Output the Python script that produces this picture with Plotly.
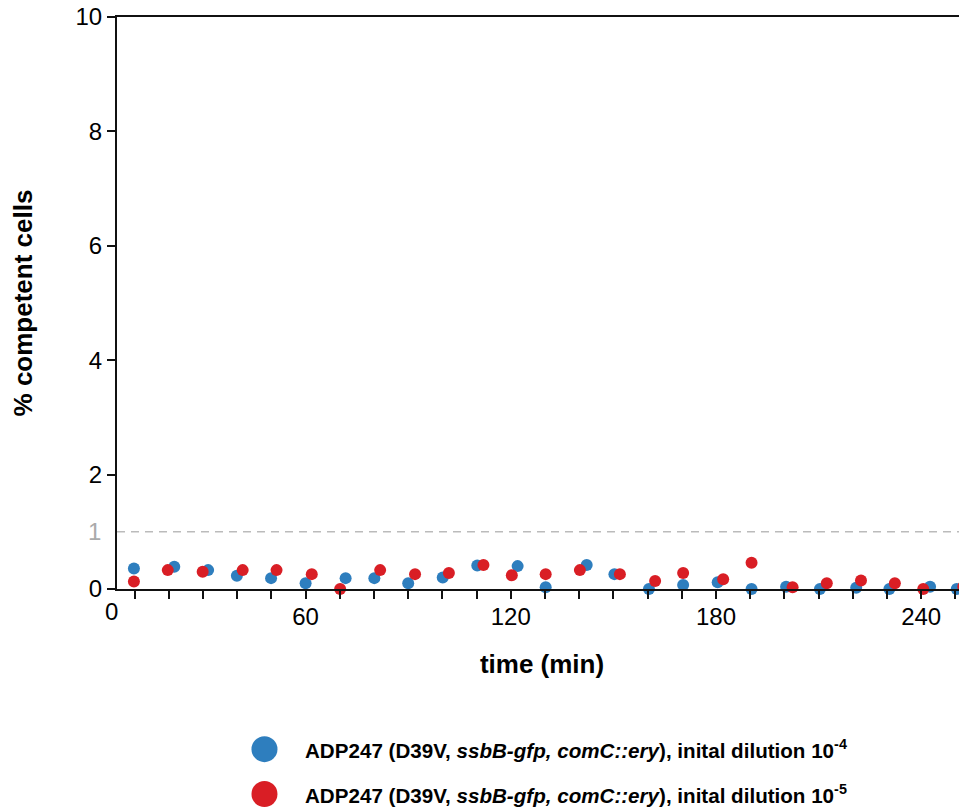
import plotly.graph_objects as go

# ---------------- data ----------------
blue_name = "ADP247 (D39V, ssbB-gfp, comC::ery), inital dilution 10^-4"
red_name = "ADP247 (D39V, ssbB-gfp, comC::ery), inital dilution 10^-5"

blue_time = [9.8, 21.6, 31.5, 39.9, 49.9, 60.0, 71.7, 80.1, 90.0, 100.1, 110.2, 122.0, 130.2,
             142.2, 150.3, 160.4, 170.4, 180.5, 190.4, 200.5, 210.4, 221.0, 230.7, 242.6, 250.4]
blue_pct = [0.36, 0.39, 0.33, 0.23, 0.19, 0.10, 0.19, 0.19, 0.10, 0.20, 0.41, 0.40, 0.03,
            0.42, 0.26, 0.0, 0.07, 0.12, 0.0, 0.04, 0.0, 0.02, 0.0, 0.04, 0.0]

red_time = [9.8, 19.7, 29.9, 41.6, 51.5, 61.8, 70.1, 81.8, 92.0, 101.9, 112.0, 120.3, 130.2,
            140.2, 151.9, 162.2, 170.4, 182.1, 190.4, 202.4, 212.4, 222.4, 232.3, 240.6, 252.3]
red_pct = [0.13, 0.33, 0.30, 0.33, 0.33, 0.26, 0.0, 0.33, 0.26, 0.28, 0.42, 0.24, 0.26,
           0.33, 0.26, 0.14, 0.28, 0.17, 0.46, 0.03, 0.10, 0.15, 0.10, 0.0, 0.04]

x_minor_ticks = list(range(10, 251, 10))
x_major_ticks = [60, 120, 180, 240]
y_tick_vals = [0, 2, 4, 6, 8, 10]
threshold = 1

legend_labels = [
    "<b>ADP247 (D39V, <i>ssbB-gfp, comC::ery</i>), inital dilution 10<sup>-4</sup></b>",
    "<b>ADP247 (D39V, <i>ssbB-gfp, comC::ery</i>), inital dilution 10<sup>-5</sup></b>",
]

# ---------------- style ----------------
BLUE = "#2E7EBE"
RED = "#D91E25"
FONT = "Liberation Sans, Arial, sans-serif"
TICK_SIZE = 24

fig = go.Figure()
fig.add_trace(go.Scatter(x=blue_time, y=blue_pct, mode="markers", name=blue_name,
                         marker=dict(color=BLUE, size=12), cliponaxis=False))
fig.add_trace(go.Scatter(x=red_time, y=red_pct, mode="markers", name=red_name,
                         marker=dict(color=RED, size=12), cliponaxis=False))

fig.update_layout(
    width=959, height=802,
    margin=dict(l=109, r=0, t=9, b=221),
    plot_bgcolor="white", paper_bgcolor="white",
    showlegend=False,
    font=dict(family=FONT, color="black"),
    xaxis=dict(
        range=[4.85, 253.4], tickvals=x_major_ticks,
        ticks="outside", ticklen=8, tickwidth=2, tickcolor="#111",
        minor=dict(tickvals=x_minor_ticks, ticks="outside", ticklen=8, tickwidth=2,
                   tickcolor="#111", showgrid=False),
        showline=True, linewidth=2, linecolor="#111", mirror=True,
        showgrid=False, zeroline=False, automargin=False,
        ticklabelstandoff=-3, ticklabeloverflow="allow",
        tickfont=dict(size=TICK_SIZE, family=FONT),
        title=dict(text="<b>time (min)</b>", font=dict(size=26, family=FONT), standoff=26),
    ),
    yaxis=dict(
        range=[0, 10], tickvals=y_tick_vals,
        ticks="outside", ticklen=8, tickwidth=2, tickcolor="#111",
        showline=True, linewidth=2, linecolor="#111",
        showgrid=False, zeroline=False, automargin=False, ticklabeloverflow="allow",
        tickfont=dict(size=TICK_SIZE, family=FONT),
        title=dict(text="<b>% competent cells</b>", font=dict(size=26, family=FONT), standoff=44),
    ),
)

# dashed reference line at 1 %
fig.add_shape(type="line", xref="paper", yref="y", x0=0, x1=1, y0=threshold, y1=threshold,
              line=dict(color="#BBBBBB", width=1.5, dash="8px,6px"), layer="below")
fig.add_annotation(xref="paper", yref="y", x=0, y=threshold, text=str(threshold),
                   showarrow=False, xanchor="right", yanchor="middle", xshift=-14,
                   font=dict(size=TICK_SIZE, color="#AAAAAA", family=FONT))

# "0" label at origin of x axis
fig.add_annotation(xref="paper", yref="paper", x=0, y=0, text="0", showarrow=False,
                   xanchor="center", yanchor="middle", xshift=-6, yshift=-22,
                   font=dict(size=TICK_SIZE, family=FONT))

# custom legend below the plot
legend_colors = [BLUE, RED]
legend_y = [-0.280, -0.3584]
for lab, col, ly in zip(legend_labels, legend_colors, legend_y):
    fig.add_shape(type="circle", xref="paper", yref="paper",
                  xsizemode="pixel", ysizemode="pixel",
                  xanchor=0.1735, yanchor=ly, x0=-13, x1=13, y0=-13, y1=13,
                  fillcolor=col, line=dict(width=0))
    fig.add_annotation(xref="paper", yref="paper", x=0.2188, y=ly, text=lab,
                       showarrow=False, xanchor="left", yanchor="middle",
                       font=dict(size=20.6, family=FONT, color="black"))

fig.write_html("out.html")
